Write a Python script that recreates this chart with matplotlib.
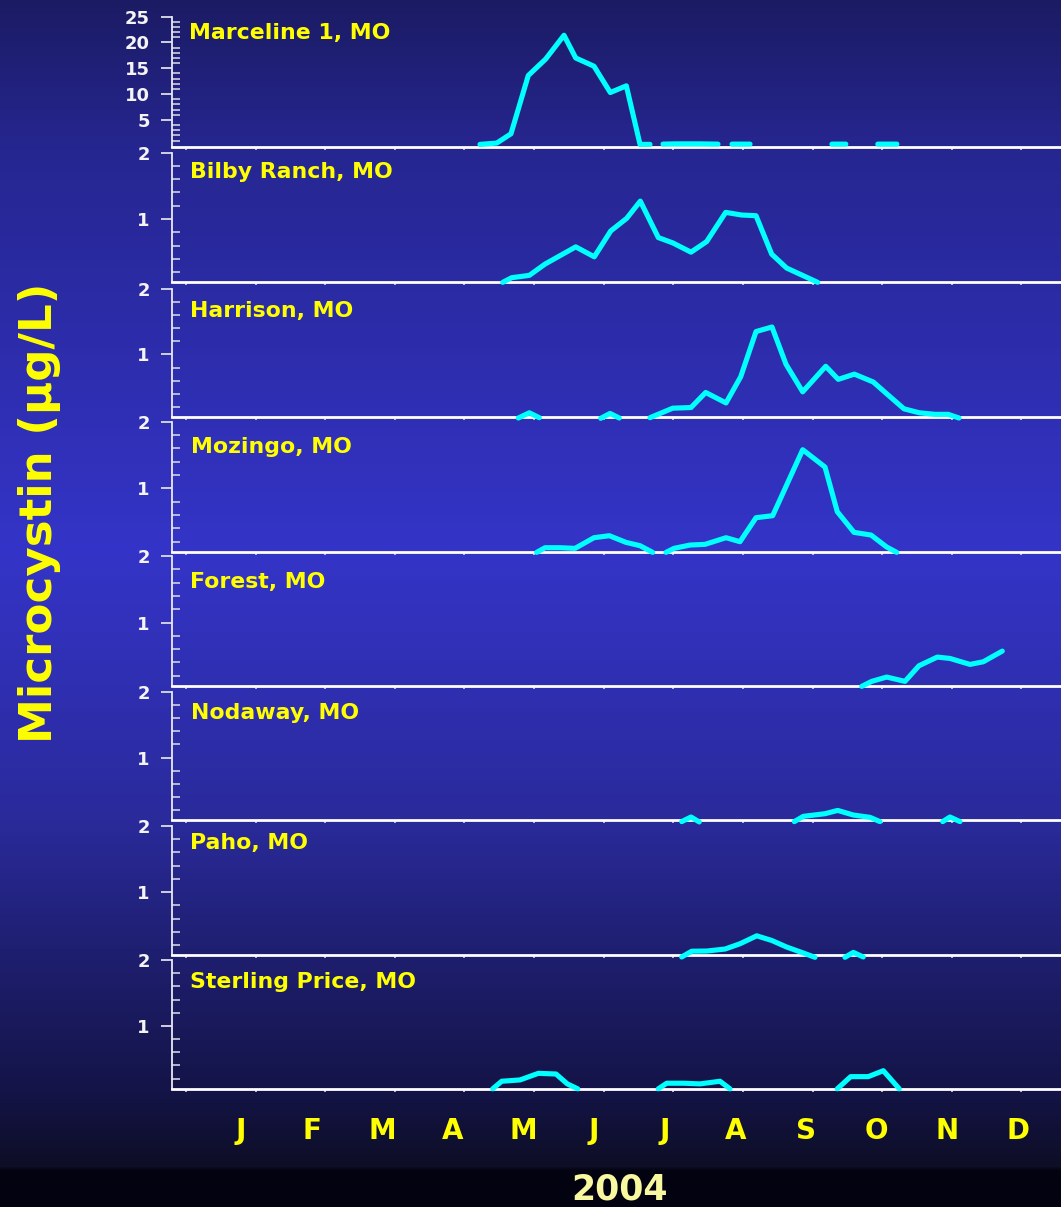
import numpy as np
import matplotlib
matplotlib.use("Agg")
import matplotlib.pyplot as plt
from matplotlib.ticker import FixedLocator, NullFormatter

N = None
# ---------------- data (x in month units: J=1 ... D=12) ----------------
sites = ["Marceline 1, MO", "Bilby Ranch, MO", "Harrison, MO", "Mozingo, MO",
         "Forest, MO", "Nodaway, MO", "Paho, MO", "Sterling Price, MO"]

marceline_x = [4.385, 4.622, 4.824, 5.069, 5.316, 5.575, 5.741, 6.000, 6.231, 6.458, 6.652, 6.793, N,
               6.977, 7.147, 7.501, 7.756, N, 7.955, 8.210, N, 9.370, 9.567, N, 10.02, 10.29]
marceline_y = [0.25, 0.5, 2.3, 13.6, 16.8, 21.4, 17.0, 15.4, 10.3, 11.6, 0.25, 0.25, N,
               0.3, 0.35, 0.35, 0.3, N, 0.3, 0.3, N, 0.3, 0.3, N, 0.3, 0.3]

bilby_x = [4.707, 4.834, 5.084, 5.306, 5.741, 6.004, 6.237, 6.463, 6.656, 6.911, 7.115, 7.374,
           7.596, 7.865, 8.092, 8.295, 8.517, 8.729, 9.168]
bilby_y = [0.045, 0.115, 0.15, 0.32, 0.58, 0.43, 0.82, 1.01, 1.27, 0.72, 0.64, 0.50,
           0.66, 1.10, 1.06, 1.05, 0.47, 0.26, 0.045]

harrison_x = [4.928, 5.084, 5.225, N, 6.095, 6.227, 6.358, N, 6.793, 7.115, 7.374, 7.582, 7.870,
              8.078, 8.295, 8.521, 8.720, 8.956, 9.282, 9.460, 9.687, 9.956, 10.146, 10.391,
              10.608, 10.830, 11.018, 11.170]
harrison_y = [0.03, 0.11, 0.035, N, 0.025, 0.10, 0.03, N, 0.035, 0.18, 0.19, 0.42, 0.26,
              0.66, 1.35, 1.42, 0.85, 0.43, 0.82, 0.62, 0.70, 0.58, 0.40, 0.17,
              0.11, 0.086, 0.086, 0.03]

mozingo_x = [5.188, 5.306, 5.518, 5.731, 6.000, 6.217, 6.453, 6.652, 6.831, N,
             7.020, 7.133, 7.360, 7.572, 7.870, 8.068, 8.295, 8.531, 8.956, 9.272,
             9.446, 9.683, 9.924, 10.146, 10.288]
mozingo_y = [0.04, 0.11, 0.11, 0.10, 0.26, 0.29, 0.19, 0.14, 0.04, N,
             0.04, 0.10, 0.15, 0.16, 0.26, 0.20, 0.56, 0.59, 1.58, 1.32,
             0.65, 0.34, 0.30, 0.12, 0.04]

forest_x = [9.792, 9.933, 10.146, 10.405, 10.603, 10.862, 11.042, 11.326, 11.514, 11.783]
forest_y = [0.04, 0.115, 0.18, 0.115, 0.35, 0.48, 0.46, 0.37, 0.41, 0.57]

nodaway_x = [7.242, 7.374, 7.491, N, 8.837, 8.965, 9.272, 9.452, 9.673, 9.909, 10.051, N,
             10.939, 11.042, 11.184]
nodaway_y = [0.03, 0.10, 0.025, N, 0.03, 0.11, 0.15, 0.20, 0.13, 0.095, 0.03, N,
             0.03, 0.10, 0.03]

paho_x = [7.242, 7.384, 7.596, 7.856, 8.068, 8.305, 8.517, 8.730, 8.965, 9.130, N,
          9.555, 9.673, 9.814]
paho_y = [0.02, 0.107, 0.11, 0.14, 0.22, 0.34, 0.27, 0.17, 0.08, 0.015, N,
          0.015, 0.09, 0.02]

sterling_x = [4.565, 4.693, 4.952, 5.211, 5.462, 5.622, 5.769, N,
              6.911, 7.030, 7.265, 7.501, 7.785, 7.926, N,
              9.446, 9.636, 9.885, 10.098, 10.324]
sterling_y = [0.045, 0.16, 0.18, 0.28, 0.27, 0.12, 0.045, N,
              0.045, 0.13, 0.13, 0.12, 0.16, 0.045, N,
              0.045, 0.23, 0.23, 0.32, 0.045]

series_x = [marceline_x, bilby_x, harrison_x, mozingo_x, forest_x, nodaway_x, paho_x, sterling_x]
series_y = [marceline_y, bilby_y, harrison_y, mozingo_y, forest_y, nodaway_y, paho_y, sterling_y]

month_labels = ["J", "F", "M", "A", "M", "J", "J", "A", "S", "O", "N", "D"]
month_pos = list(range(1, 13))
x_ticks = [0.221 + 0.986 * k for k in range(13)]
year_label = "2004"
y_label = "Microcystin (\u00b5g/L)"

# ---------------- layout ----------------
W, H = 1061, 1207
fig = plt.figure(figsize=(W / 100, H / 100), dpi=100)
FONT = "DejaVu Sans"

# background gradient
bg = fig.add_axes([0, 0, 1, 1], zorder=-10)
stops_y = [0, 150, 550, 820, 960, 1090, 1166, 1170, 1207]
stops_c = [(27, 27, 100), (38, 38, 145), (52, 52, 200), (42, 42, 155), (30, 30, 110),
           (20, 20, 72), (14, 14, 38), (2, 2, 16), (2, 2, 16)]
yy = np.arange(H)
grad = np.zeros((H, 1, 3))
for ch in range(3):
    grad[:, 0, ch] = np.interp(yy, stops_y, [c[ch] for c in stops_c]) / 255.0
bg.imshow(grad, aspect="auto", extent=[0, 1, 0, 1], origin="upper")
bg.set_xlim(0, 1); bg.set_ylim(0, 1)
bg.axis("off")

left_px, right_px = 172, 1061
bases = [146.7, 282, 416.7, 551.7, 685.7, 820.3, 955, 1088.5]
tops = [16.7, 152.7, 289, 421.7, 556, 691.7, 826, 960]
title_pos = [(189, 33), (190, 172), (190, 311), (191, 447), (190, 582), (191, 713), (190, 843), (190, 982)]

x_left = (left_px - 241) / 70.6 + 1
x_right = (right_px - 241) / 70.6 + 1

tick_col = "#d0d0e0"
for i in range(8):
    b, t = bases[i], tops[i]
    ax = fig.add_axes([left_px / W, 1 - b / H, (right_px - left_px) / W, (b - t) / H])
    ax.set_facecolor("none")
    xs = np.array(series_x[i], dtype=float)
    ys = np.array(series_y[i], dtype=float)
    ax.plot(xs, ys, color="#00ffff", lw=3.7, solid_capstyle="round",
            solid_joinstyle="round", clip_on=False, zorder=5)
    ax.set_xlim(x_left, x_right)
    if i == 0:
        ax.set_ylim(-0.2, 25)
        ax.yaxis.set_major_locator(FixedLocator([5, 10, 15, 20, 25]))
        ax.yaxis.set_minor_locator(FixedLocator([v for v in range(1, 25) if v % 5 != 0]))
    else:
        ax.set_ylim(0.05, 2.0)
        ax.yaxis.set_major_locator(FixedLocator([1, 2]))
        ax.yaxis.set_minor_locator(FixedLocator([0.2, 0.4, 0.6, 0.8, 1.2, 1.4, 1.6, 1.8]))
    ax.yaxis.set_minor_formatter(NullFormatter())
    ax.xaxis.set_major_locator(FixedLocator(x_ticks))
    ax.xaxis.set_major_formatter(NullFormatter())
    for s in ["top", "right"]:
        ax.spines[s].set_visible(False)
    ax.spines["left"].set_color("#e8e8f4")
    ax.spines["left"].set_linewidth(1.3)
    ax.spines["bottom"].set_color("#ffffff")
    ax.spines["bottom"].set_linewidth(2.0)
    ax.tick_params(axis="y", which="major", direction="out", length=8, width=1.4,
                   color=tick_col, pad=8, labelsize=13, labelcolor="#f4f4f4")
    ax.tick_params(axis="y", which="minor", direction="in", length=5.5, width=1.2, color=tick_col)
    ax.tick_params(axis="x", which="major", direction="out", length=2.5, width=1.2, color=tick_col)
    for lab in ax.get_yticklabels():
        lab.set_fontfamily(FONT)
        lab.set_fontweight("bold")
    tx, ty = title_pos[i]
    fig.text(tx / W, 1 - ty / H, sites[i], color="#ffff00", fontsize=15.8, fontweight="bold",
             family=FONT, ha="left", va="center")
    if i == 7:
        for mp, ml in zip(month_pos, month_labels):
            ax.text(mp, -0.33, ml, transform=ax.get_xaxis_transform(), color="#ffff00",
                    fontsize=20, fontweight="bold", family=FONT, ha="center", va="center")

fig.text(40 / W, 1 - 513 / H, y_label, rotation=90, color="#ffff00", fontsize=32.5,
         fontweight="bold", family=FONT, ha="center", va="center")
fig.text(620 / W, 1 - 1190 / H, year_label, color="#f8f8a0", fontsize=25,
         fontweight="bold", family=FONT, ha="center", va="center")

fig.savefig("out.png", dpi=100)
